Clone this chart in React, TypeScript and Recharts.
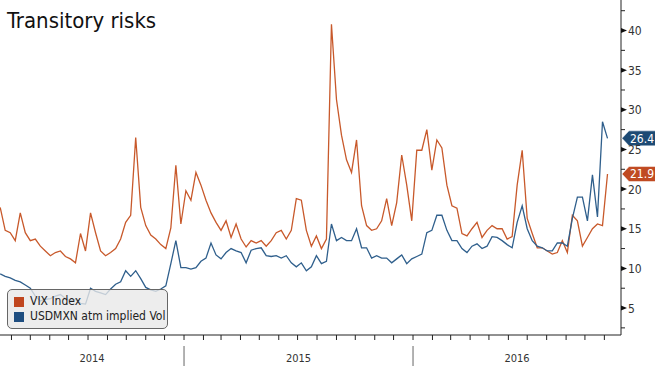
import { LineChart, Line, XAxis, YAxis, ReferenceDot } from "recharts";

// first point is 72 days after 1 Jan 2014, then one point every 8 days
const START_DAY = 72;
const STEP_DAYS = 8;

const vixIndex = [
  17.7, 14.8, 14.5, 13.5, 17.0, 14.5, 13.5, 13.7, 12.8, 12.2, 11.6, 12.0, 12.2, 11.5, 11.2, 10.7,
  14.4, 12.2, 17.0, 14.5, 12.2, 11.6, 12.0, 12.5, 13.7, 15.8, 16.7, 26.5, 17.7, 15.4, 14.2, 13.7,
  13.0, 12.5, 15.1, 23.0, 15.6, 19.8, 18.6, 22.1, 20.5, 18.6, 17.0, 15.8, 14.8, 16.0, 13.9, 15.6,
  13.7, 12.7, 13.5, 13.2, 13.5, 12.8, 13.5, 14.5, 14.8, 13.7, 14.8, 18.8, 18.6, 14.8, 12.8, 14.1,
  12.5, 13.7, 40.8, 31.3, 26.8, 23.7, 22.1, 26.2, 17.9, 15.4, 14.8, 15.0, 16.0, 18.8, 15.4, 18.3,
  24.3, 20.5, 16.0, 24.9, 24.9, 27.5, 22.4, 26.2, 25.2, 20.5, 17.9, 17.6, 14.4, 14.1, 15.0, 15.8,
  13.9, 14.8, 15.4, 15.0, 15.0, 13.7, 14.0, 20.5, 24.9, 16.3, 14.4, 12.6, 12.6, 12.2, 11.8, 12.0,
  13.5, 12.0, 16.7, 16.0, 12.8, 13.9, 15.0, 15.6, 15.4, 21.9,
];

const usdmxnVol = [
  9.3, 9.0, 8.8, 8.5, 8.3, 7.9, 7.5, 6.5, 5.9, 6.1, 6.2, 6.5, 6.7, 6.2, 5.9, 6.1,
  5.6, 5.5, 7.5, 7.1, 6.9, 6.7, 7.4, 8.0, 8.3, 9.7, 9.0, 9.7, 8.7, 7.6, 7.3, 7.1,
  7.4, 7.8, 10.6, 13.5, 10.1, 10.1, 9.9, 10.1, 10.9, 11.3, 13.2, 11.7, 11.2, 12.0, 12.5, 12.2,
  12.0, 10.7, 12.3, 12.5, 12.6, 11.6, 11.5, 11.6, 11.3, 11.6, 10.7, 10.2, 10.7, 9.7, 10.2, 11.6,
  10.6, 10.9, 15.6, 13.5, 13.9, 13.5, 13.5, 15.0, 12.6, 12.6, 11.3, 11.6, 11.3, 11.3, 10.7, 11.2,
  11.7, 10.6, 11.2, 11.5, 11.8, 14.5, 14.8, 16.7, 16.7, 14.8, 13.5, 13.5, 12.5, 12.0, 12.8, 13.1,
  12.5, 12.8, 14.0, 13.9, 13.5, 13.0, 12.6, 15.8, 17.9, 15.0, 13.5, 12.8, 12.6, 12.2, 12.2, 13.2,
  13.2, 12.8, 16.3, 19.0, 19.0, 16.0, 21.8, 16.5, 28.5, 26.4,
];

const years = ["2014", "2015", "2016"];
const yMajor = [5, 10, 15, 20, 25, 30, 35, 40];

const X_MIN = 71.7;
const X_MAX = 1061.5;
const Y_MIN = 1.6;
const Y_MAX = 43.85;

const ORANGE = "#c8592b";
const BLUE = "#2f5f8c";

const data = vixIndex.map((v, i) => ({
  day: START_DAY + STEP_DAYS * i,
  vix: v,
  mxn: usdmxnVol[i],
}));

const dayOf = (y: number, m: number) =>
  (Date.UTC(y, m, 1) - Date.UTC(2014, 0, 1)) / 86400000;

const monthTicks: number[] = [];
for (let y = 2014; y <= 2016; y++) {
  for (let m = 0; m < 12; m++) {
    const d = dayOf(y, m);
    if (d > X_MIN && d < X_MAX) monthTicks.push(d);
  }
}
const yearStarts = [dayOf(2015, 0), dayOf(2016, 0)];
const yearCentres = [
  (X_MIN + yearStarts[0]) / 2,
  (yearStarts[0] + yearStarts[1]) / 2,
  (yearStarts[1] + X_MAX) / 2,
];

const yTicks: number[] = [];
for (let v = 2.5; v < Y_MAX; v += 2.5) yTicks.push(v);

const FONT = '"DejaVu Sans", sans-serif';

const XTick = (props: any) => {
  const { x, y, payload } = props;
  const idx = yearCentres.indexOf(payload.value);
  if (idx >= 0) {
    return (
      <text x={x} y={y + 27} textAnchor="middle" fontSize={11} fill="#333">
        {years[idx]}
      </text>
    );
  }
  const isYear = yearStarts.includes(payload.value);
  return (
    <g>
      <line x1={x} x2={x} y1={y} y2={y + 5} stroke="#222" />
      {isYear && <line x1={x} x2={x} y1={y + 11} y2={y + 31} stroke="#666" />}
    </g>
  );
};

const YTick = (props: any) => {
  const { x, y, payload } = props;
  const v = payload.value;
  if (yMajor.includes(v)) {
    return (
      <g>
        <polygon points={`${x},${y - 2.5} ${x},${y + 2.5} ${x + 6},${y}`} fill="#111" />
        <text x={x + 7} y={y + 4.5} fontSize={12} fill="#333">
          {v}
        </text>
      </g>
    );
  }
  return <line x1={x} x2={x + 4} y1={y} y2={y} stroke="#222" />;
};

const endTag = (fill: string, label: string) => (props: any) => {
  const { cx, cy } = props;
  const x = cx + 1;
  return (
    <g>
      <path
        d={`M${x},${cy} L${x + 7},${cy - 7.5} L${x + 40},${cy - 7.5} L${x + 40},${cy + 7.5} L${x + 7},${cy + 7.5} Z`}
        fill={fill}
        stroke="#fff"
        strokeWidth={0.5}
      />
      <text x={x + 8} y={cy + 4.3} fontSize={12} fill="#fff">
        {label}
      </text>
    </g>
  );
};

export default function App() {
  const lastVix = vixIndex[vixIndex.length - 1];
  const lastMxn = usdmxnVol[usdmxnVol.length - 1];
  return (
    <div
      style={{
        position: "absolute",
        left: 0,
        top: 0,
        width: 655,
        height: 369,
        background: "#fff",
        fontFamily: FONT,
        fontStretch: "condensed",
      }}
    >
      <LineChart width={655} height={369} data={data} margin={{ top: 0, right: 0, bottom: 0, left: 0 }}>
        <XAxis
          dataKey="day"
          type="number"
          domain={[X_MIN, X_MAX]}
          allowDataOverflow
          ticks={[...monthTicks, ...yearCentres]}
          interval={0}
          tick={<XTick />}
          tickLine={false}
          tickSize={0}
          tickMargin={0}
          height={34}
          axisLine={{ stroke: "#222" }}
        />
        <YAxis
          orientation="right"
          type="number"
          domain={[Y_MIN, Y_MAX]}
          allowDataOverflow
          ticks={yTicks}
          interval={0}
          tick={<YTick />}
          tickLine={false}
          tickSize={0}
          tickMargin={0}
          width={34}
          axisLine={{ stroke: "#222" }}
        />
        <Line dataKey="vix" stroke={ORANGE} strokeWidth={1.3} dot={false} activeDot={false} isAnimationActive={false} />
        <Line dataKey="mxn" stroke={BLUE} strokeWidth={1.3} dot={false} activeDot={false} isAnimationActive={false} />
        <ReferenceDot x={X_MAX} y={lastMxn} r={0} ifOverflow="visible" shape={endTag("#1d4a74", lastMxn.toFixed(1))} />
        <ReferenceDot x={X_MAX} y={lastVix} r={0} ifOverflow="visible" shape={endTag("#c04a22", lastVix.toFixed(1))} />
      </LineChart>
      <div
        style={{
          position: "absolute",
          left: 7,
          top: 10,
          fontSize: 22,
          lineHeight: "22px",
          color: "#111",
        }}
      >
        Transitory risks
      </div>
      <div
        style={{
          position: "absolute",
          left: 7,
          top: 289,
          width: 161,
          height: 40,
          boxSizing: "border-box",
          border: "1px solid #666",
          borderRadius: 5,
          background: "rgba(232,232,232,0.8)",
          fontSize: 12,
          color: "#222",
          lineHeight: "15px",
          paddingTop: 4,
        }}
      >
        {[
          { c: "#c0461f", t: "VIX Index" },
          { c: "#1f4e80", t: "USDMXN atm implied Vol" },
        ].map((it) => (
          <div key={it.t} style={{ display: "flex", alignItems: "center", paddingLeft: 6 }}>
            <span style={{ width: 10, height: 10, background: it.c, marginRight: 6 }} />
            {it.t}
          </div>
        ))}
      </div>
    </div>
  );
}
